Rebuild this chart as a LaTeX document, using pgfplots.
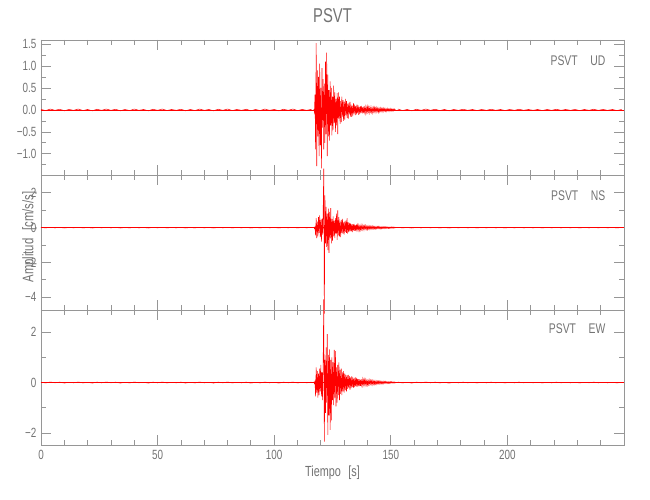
\documentclass[border=0pt]{standalone}
\usepackage{pgfplots}
\pgfplotsset{compat=1.18}
\usepackage{pgfplotstable}
\usepackage{fontspec}
\setmainfont{Liberation Sans}[FakeStretch=0.74]
\definecolor{axgray}{RGB}{150,150,150}
\definecolor{txtgray}{RGB}{115,115,115}

% pre-event noise, t = 0,2,...,116
\pgfplotstableread[header=false,row sep=\\]{
0.01\\-0.015\\0.02\\-0.01\\0.015\\-0.02\\0.01\\-0.01\\0.02\\-0.015\\
0.01\\-0.02\\0.015\\-0.01\\0.02\\-0.01\\0.015\\-0.02\\0.01\\-0.015\\
0.02\\-0.01\\0.01\\-0.02\\0.015\\-0.01\\0.02\\-0.015\\0.01\\-0.01\\
0.015\\-0.02\\0.01\\-0.015\\0.02\\-0.01\\0.01\\-0.02\\0.015\\-0.01\\
0.02\\-0.015\\0.01\\-0.01\\0.015\\-0.02\\0.01\\-0.015\\0.02\\-0.01\\
0.01\\-0.02\\0.015\\-0.01\\0.02\\-0.015\\0.01\\-0.01\\0.015\\
}\prenoise
% coda noise, t = 153,155,...,249
\pgfplotstableread[header=false,row sep=\\]{
0.02\\-0.015\\0.01\\-0.02\\0.015\\-0.01\\0.02\\-0.01\\0.015\\-0.015\\
0.01\\-0.02\\0.01\\-0.01\\0.015\\-0.01\\0.01\\-0.015\\0.01\\-0.01\\
0.015\\-0.01\\0.01\\-0.015\\0.01\\-0.01\\0.015\\-0.01\\0.01\\-0.01\\
0.01\\-0.015\\0.01\\-0.01\\0.015\\-0.01\\0.01\\-0.01\\0.01\\-0.015\\
0.01\\-0.01\\0.015\\-0.01\\0.01\\-0.01\\0.01\\-0.015\\0.01\\
}\codanoise
% UD event, t = 117 + 0.25 i
\pgfplotstableread[header=false,row sep=\\]{
0.02\\-0.05\\0.35\\-0.9\\1.52\\-1.28\\0.9\\-0.6\\0.75\\-1.05\\
1.05\\-0.8\\0.5\\-1.33\\0.95\\-0.4\\0.7\\-0.9\\0.6\\-0.75\\
1.1\\-0.55\\1.3\\-1.05\\0.8\\-0.6\\0.45\\-0.7\\0.65\\-0.35\\
0.5\\-0.58\\0.3\\-0.45\\0.55\\-0.3\\0.4\\-0.5\\0.25\\-0.35\\
0.38\\-0.55\\0.4\\-0.2\\0.3\\-0.32\\0.2\\-0.28\\0.3\\-0.15\\
0.22\\-0.25\\0.18\\-0.22\\0.25\\-0.12\\0.2\\-0.18\\0.14\\-0.2\\
0.16\\-0.1\\0.18\\-0.15\\0.12\\-0.16\\0.1\\-0.13\\0.15\\-0.08\\
0.12\\-0.12\\0.09\\-0.1\\0.12\\-0.07\\0.1\\-0.11\\0.07\\-0.09\\
0.08\\-0.06\\0.09\\-0.08\\0.06\\-0.07\\0.08\\-0.05\\0.07\\-0.07\\
0.05\\-0.06\\0.07\\-0.05\\0.06\\-0.06\\0.05\\-0.04\\0.06\\-0.05\\
0.04\\-0.06\\0.05\\-0.04\\0.05\\-0.05\\0.04\\-0.04\\0.05\\-0.03\\
0.04\\-0.05\\0.03\\-0.04\\0.04\\-0.03\\0.03\\-0.04\\0.03\\-0.03\\
0.04\\-0.02\\0.03\\-0.03\\0.02\\-0.03\\0.03\\-0.02\\0.02\\-0.03\\
0.02\\-0.02\\0.03\\-0.02\\0.02\\-0.02\\0.02\\-0.02\\0.02\\-0.01\\
0.01\\
}\udev
% NS event
\pgfplotstableread[header=false,row sep=\\]{
0.03\\-0.05\\0.04\\-0.45\\0.55\\-0.6\\0.35\\-0.5\\0.6\\-0.3\\
0.7\\-0.55\\0.45\\-0.8\\0.5\\-0.4\\0.9\\3.4\\-4.95\\1.85\\
-0.9\\1.2\\-1.1\\0.8\\-1.3\\1.1\\-1.45\\0.9\\-0.6\\1.13\\
-0.9\\0.5\\-0.75\\0.65\\-0.5\\0.4\\-0.6\\0.55\\-0.35\\0.8\\
-0.7\\1.0\\-0.45\\0.6\\-0.5\\0.35\\-0.55\\0.45\\-0.3\\0.5\\
-0.35\\0.3\\-0.4\\0.35\\-0.25\\0.4\\-0.3\\0.55\\-0.35\\0.3\\
-0.25\\0.28\\-0.2\\0.25\\-0.22\\0.18\\-0.25\\0.2\\-0.15\\0.22\\
-0.18\\0.15\\-0.2\\0.18\\-0.12\\0.15\\-0.14\\0.12\\-0.15\\0.1\\
-0.12\\0.14\\-0.1\\0.12\\-0.11\\0.09\\-0.12\\0.1\\-0.08\\0.11\\
-0.09\\0.08\\-0.1\\0.09\\-0.07\\0.08\\-0.08\\0.07\\-0.08\\0.06\\
-0.07\\0.08\\-0.06\\0.07\\-0.06\\0.06\\-0.07\\0.05\\-0.06\\0.06\\
-0.05\\0.06\\-0.05\\0.05\\-0.06\\0.04\\-0.05\\0.05\\-0.04\\0.05\\
-0.04\\0.04\\-0.05\\0.04\\-0.04\\0.04\\-0.03\\0.04\\-0.04\\0.03\\
-0.04\\0.03\\-0.03\\0.04\\-0.03\\0.03\\-0.03\\0.03\\-0.02\\0.03\\
-0.02\\
}\nsev
% EW event
\pgfplotstableread[header=false,row sep=\\]{
0.03\\-0.04\\0.05\\-0.55\\0.6\\-0.4\\0.45\\-0.6\\0.35\\-0.5\\
0.55\\-0.35\\0.7\\-0.55\\0.4\\-0.7\\0.8\\3.3\\-2.35\\0.9\\
-1.2\\1.4\\-0.8\\1.92\\-2.08\\1.1\\-1.3\\1.32\\-1.88\\0.9\\
-1.5\\1.0\\-0.7\\0.8\\-0.9\\1.3\\-0.6\\1.25\\-0.95\\0.6\\
-0.8\\0.7\\-0.5\\0.8\\-0.7\\0.5\\-0.45\\0.55\\-0.5\\0.4\\
-0.35\\0.45\\-0.4\\0.35\\-0.3\\0.3\\-0.35\\0.28\\-0.25\\0.3\\
-0.22\\0.25\\-0.28\\0.2\\-0.22\\0.24\\-0.18\\0.2\\-0.2\\0.16\\
-0.18\\0.2\\-0.15\\0.18\\-0.16\\0.14\\-0.15\\0.13\\-0.14\\0.12\\
-0.13\\0.12\\-0.1\\0.12\\-0.11\\0.1\\-0.1\\0.11\\-0.09\\0.1\\
-0.09\\0.08\\-0.09\\0.08\\-0.08\\0.09\\-0.07\\0.08\\-0.07\\0.07\\
-0.08\\0.07\\-0.06\\0.07\\-0.06\\0.06\\-0.06\\0.05\\-0.06\\0.05\\
-0.05\\0.05\\-0.05\\0.05\\-0.04\\0.05\\-0.04\\0.04\\-0.04\\0.04\\
-0.04\\0.04\\-0.03\\0.04\\-0.03\\0.03\\-0.03\\0.03\\-0.03\\0.03\\
-0.03\\0.03\\-0.02\\0.03\\-0.02\\0.02\\-0.02\\0.02\\-0.02\\0.02\\
-0.02\\
}\ewev

\pgfplotsset{
  panel/.style={
    scale only axis, width=437.25pt, height=101.25pt,
    anchor=south west,
    xmin=0, xmax=250,
    xtick={0,50,100,150,200}, minor xtick={0,10,...,250},
    tick align=inside, major tick length=7.5pt, minor tick length=4pt,
    axis line style={axgray, line width=0.6pt},
    every tick/.style={axgray, line width=0.6pt},
    tick label style={font=\fontsize{10}{12}\selectfont, text=txtgray},
    /pgf/number format/assume math mode=true,
    clip=false,
  },
}
\tikzset{
  trace/.style={red, line width=0.4pt},
  base/.style={black, line width=0.3pt},
  redbase/.style={red, line width=0.45pt},
  lbl/.style={anchor=east, text=txtgray, font=\fontsize{10.5}{13}\selectfont},
}

\begin{document}
\begin{tikzpicture}
\useasboundingbox (0,0) rectangle (487.5pt,375pt);
% top: UD
\begin{axis}[panel, at={(30.75pt,243.75pt)},
  ymin=-1.48, ymax=1.59,
  ytick={-1,-0.5,0,0.5,1,1.5},
  yticklabels={−1.0,−0.5,0.0,0.5,1.0,1.5},
  minor ytick={-1.25,-0.75,-0.25,0.25,0.75,1.25},
  xticklabels={}]
\addplot[base] coordinates {(0,0) (250,0)};
\addplot[redbase] coordinates {(0,0) (250,0)};
\addplot[trace] table[x expr=2*\coordindex, y index=0] {\prenoise};
\addplot[trace] table[x expr=117+0.25*\coordindex, y index=0] {\udev};
\addplot[trace] table[x expr=153+2*\coordindex, y index=0] {\codanoise};
\node[lbl] at (rel axis cs:0.976,0.845) {PSVT\hspace{0.9em}UD};
\end{axis}
% middle: NS
\begin{axis}[panel, at={(30.75pt,142.5pt)},
  ymin=-4.74, ymax=3.03,
  ytick={-4,-2,0,2},
  yticklabels={−4,−2,0,2},
  minor ytick={-3,-1,1,3},
  xticklabels={}]
\addplot[base] coordinates {(0,0) (250,0)};
\addplot[redbase] coordinates {(0,0) (250,0)};
\addplot[trace] table[x expr=2*\coordindex, y index=0] {\prenoise};
\addplot[trace] table[x expr=117+0.25*\coordindex, y index=0] {\nsev};
\addplot[trace] table[x expr=153+2*\coordindex, y index=0] {\codanoise};
\node[lbl] at (rel axis cs:0.976,0.85) {PSVT\hspace{0.9em}NS};
\node[rotate=90, text=txtgray, font=\fontsize{11.5}{13}\selectfont] at (rel axis cs:-0.02,0.54) {Amplitud\hspace{0.5em}[cm/s/s]};
\end{axis}
% bottom: EW
\begin{axis}[panel, at={(30.75pt,41.25pt)},
  ymin=-2.48, ymax=2.88,
  ytick={-2,0,2},
  yticklabels={−2,0,2},
  minor ytick={-1,1}]
\addplot[base] coordinates {(0,0) (250,0)};
\addplot[redbase] coordinates {(0,0) (250,0)};
\addplot[trace] table[x expr=2*\coordindex, y index=0] {\prenoise};
\addplot[trace] table[x expr=117+0.25*\coordindex, y index=0] {\ewev};
\addplot[trace] table[x expr=153+2*\coordindex, y index=0] {\codanoise};
\node[lbl] at (rel axis cs:0.976,0.86) {PSVT\hspace{0.9em}EW};
\node[text=txtgray, font=\fontsize{11}{13}\selectfont] at (rel axis cs:0.5,0) [yshift=-20.5pt] {Tiempo\hspace{0.5em}[s]};
\end{axis}
\node[text=txtgray, font=\fontsize{15}{18}\selectfont] at (249.4pt,363.5pt) {PSVT};
\end{tikzpicture}
\end{document}
